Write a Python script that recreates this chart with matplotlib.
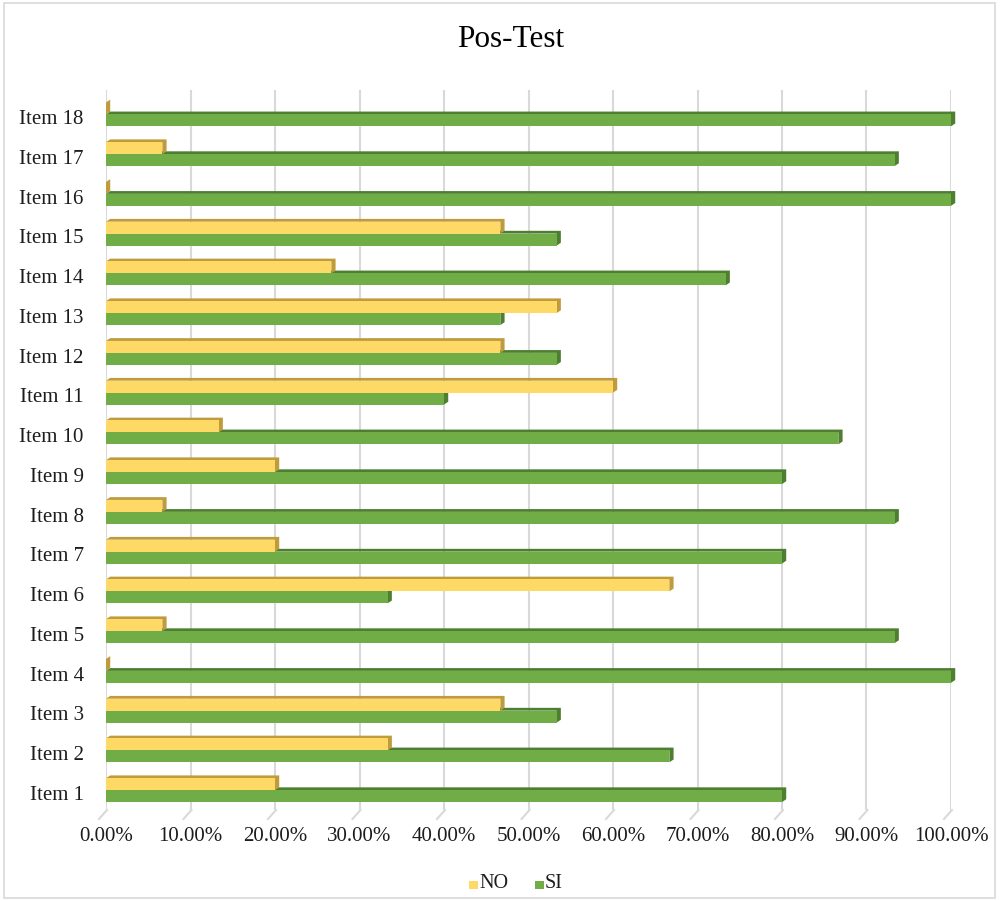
import matplotlib
matplotlib.use("Agg")
import matplotlib.pyplot as plt
from matplotlib.patches import Polygon, Rectangle
import numpy as np

plt.rcParams['font.family'] = ['Liberation Serif', 'DejaVu Serif']

categories = [f"Item {i}" for i in range(1, 19)]
no_vals = [20.0, 33.33, 46.67, 0.0, 6.67, 66.67, 20.0, 6.67, 20.0, 13.33,
           60.0, 46.67, 53.33, 26.67, 46.67, 0.0, 6.67, 0.0]
si_vals = [80.0, 66.67, 53.33, 100.0, 93.33, 33.33, 80.0, 93.33, 80.0, 86.67,
           40.0, 53.33, 46.67, 73.33, 53.33, 100.0, 93.33, 100.0]
xticks = [0, 10, 20, 30, 40, 50, 60, 70, 80, 90, 100]
title = "Pos-Test"

c_no, c_no_dark = "#FFD966", "#BF9B3C"
c_si, c_si_dark = "#70AD47", "#4E7F30"

fig = plt.figure(figsize=(10, 9.01), dpi=100)
ax = fig.add_axes([0.106, 0.101, 0.845, 0.799])

y = np.arange(len(categories))
h = 0.3
dx, dy = 0.5, 0.07
shift = 0.07


def bar3d(x1, yc, color, dark, z):
    y0, y1 = yc - h / 2, yc + h / 2
    poly = Polygon([(0, y1), (dx, y1 + dy), (x1 + dx, y1 + dy), (x1 + dx, y0 + dy),
                    (x1, y0), (x1, y1)], closed=True, facecolor=dark,
                   edgecolor='none', zorder=z, clip_on=False)
    ax.add_patch(poly)
    ax.add_patch(Rectangle((0, y0), x1, h, facecolor=color, edgecolor='none',
                           zorder=z + 0.1, clip_on=False))


for i in range(len(categories)):
    bar3d(si_vals[i], y[i] - h / 2 + shift, c_si, c_si_dark, 3)
for i in range(len(categories)):
    bar3d(no_vals[i], y[i] + h / 2 + shift, c_no, c_no_dark, 4)

ax.set_xlim(0, 100)
ax.set_ylim(-0.43, 17.68)
ax.set_xticks(xticks)
ax.set_xticklabels([f"{v:.2f}%" for v in xticks])
ax.set_yticks(y)
ax.set_yticklabels(categories)
ax.tick_params(axis='both', length=0, labelsize=15, colors="#1c1c1c")
ax.tick_params(axis='x', pad=12)
ax.tick_params(axis='y', pad=16)
for s in ax.spines.values():
    s.set_visible(False)
for xv in xticks:
    ax.axvline(xv, color="#D9D9D9", lw=1.5, zorder=1)
    ax.plot([xv / 100 + 1 / 845, xv / 100 - 7 / 845], [0, -9 / 720],
            transform=ax.transAxes, color="#D9D9D9", lw=1.5, clip_on=False, zorder=1)

fig.text(0.511, 0.956, title, ha='center', va='center', fontsize=22.5, color="#000000")

# legend
ly = 1 - 884 / 901
fig.patches.append(Rectangle((469 / 1000, ly - 0.006), 0.0085, 0.0095,
                             transform=fig.transFigure, facecolor=c_no, edgecolor='none'))
fig.text(479 / 1000, ly, "NO", ha='left', va='center', fontsize=14.5, color="#1c1c1c")
fig.patches.append(Rectangle((535 / 1000, ly - 0.006), 0.0085, 0.0095,
                             transform=fig.transFigure, facecolor=c_si, edgecolor='none'))
fig.text(545 / 1000, ly, "SI", ha='left', va='center', fontsize=14.5, color="#1c1c1c")

fig.patches.append(Rectangle((0.004, 0.003), 0.991, 0.994, transform=fig.transFigure,
                             facecolor='none', edgecolor="#D9D9D9", lw=1.2))

fig.savefig("out.png", dpi=100, facecolor='white')
